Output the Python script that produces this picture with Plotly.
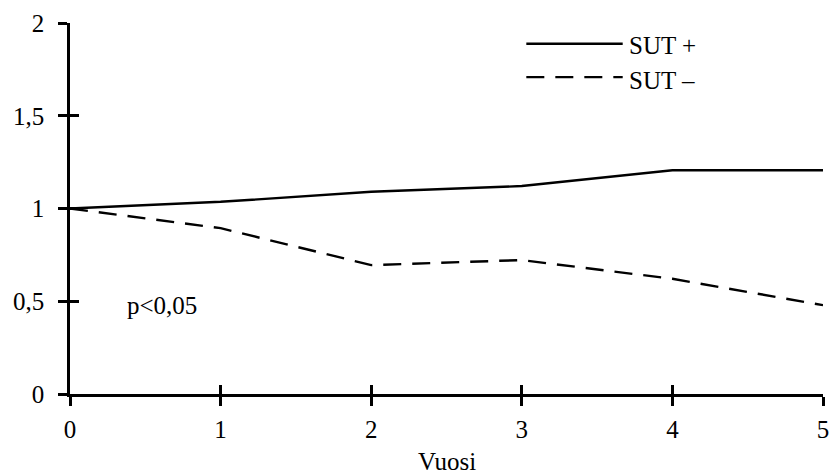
import plotly.graph_objects as go

# Years of follow-up and relative values for the two groups
years = [0, 1, 2, 3, 4, 5]
sut_plus = [1.0, 1.036, 1.09, 1.121, 1.206, 1.206]
sut_minus = [1.0, 0.894, 0.695, 0.722, 0.621, 0.479]

y_ticks = [0, 0.5, 1, 1.5, 2]
x_ticks = years
series_names = ["SUT +", "SUT \u2013"]
note_text = "p<0,05"
x_title = "Vuosi"

FONT = dict(family="'Times New Roman', 'Liberation Serif', serif", size=25, color="black")
LINE_W = 2.4
DASH = "18px,11px"

fig = go.Figure()
fig.add_trace(go.Scatter(x=years, y=sut_plus, mode="lines", name=series_names[0],
                         line=dict(color="black", width=LINE_W), showlegend=False))
fig.add_trace(go.Scatter(x=years, y=sut_minus, mode="lines", name=series_names[1],
                         line=dict(color="black", width=LINE_W, dash=DASH), showlegend=False))

# Hand-drawn legend: long line samples with text to their right
legend_rows = [(0.944, 0.939, "solid", series_names[0]),
               (0.854, 0.846, DASH, series_names[1])]
for yline, ytext, dash, label in legend_rows:
    fig.add_shape(type="line", xref="paper", yref="paper",
                  x0=0.606, x1=0.734, y0=yline, y1=yline,
                  line=dict(color="black", width=LINE_W, dash=dash))
    fig.add_annotation(xref="paper", yref="paper", x=0.740, y=ytext, text=label,
                       showarrow=False, xanchor="left", yanchor="middle", font=FONT)

fig.add_annotation(x=0.365, y=0.479, text=note_text, showarrow=False,
                   xanchor="left", yanchor="middle", font=FONT)

# Axis title placed under the tick labels
fig.add_annotation(xref="paper", yref="paper", x=0.5, y=-0.181, text=x_title,
                   showarrow=False, xanchor="center", yanchor="middle", font=FONT)

axis_common = dict(showline=True, linecolor="black", linewidth=2.5, showgrid=False,
                   zeroline=False, tickcolor="black", tickwidth=2.5, ticklen=9)

fig.update_layout(
    width=839, height=476,
    margin=dict(l=70, r=10, t=18, b=82),
    paper_bgcolor="white", plot_bgcolor="white",
    font=FONT, separators=",.",
    xaxis=dict(range=[0, 5], tickvals=x_ticks, ticks="outside",
               ticklabelstandoff=2, **axis_common),
    yaxis=dict(range=[0, 2], tickvals=y_ticks, ticks="outside",
               ticklabelstandoff=9, **axis_common),
    # Overlay axes add the inner half of each tick so ticks cross the axis lines
    xaxis2=dict(range=[0, 5], tickvals=x_ticks, ticks="inside", overlaying="x",
                side="bottom", showticklabels=False, **axis_common),
    yaxis2=dict(range=[0, 2], tickvals=y_ticks, ticks="inside", overlaying="y",
                side="left", showticklabels=False, **axis_common),
)

# Invisible trace binding the overlay axes
fig.add_trace(go.Scatter(x=[0], y=[0], xaxis="x2", yaxis="y2", mode="markers",
                         marker=dict(opacity=0), showlegend=False, hoverinfo="skip"))

fig.write_html("out.html")
